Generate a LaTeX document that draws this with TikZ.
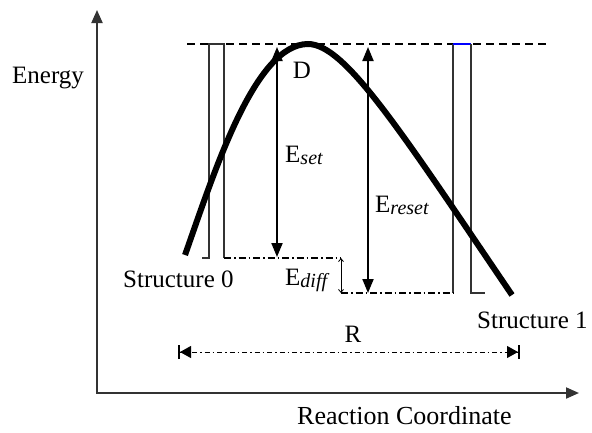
\documentclass[tikz,border=0pt]{standalone}
\usepackage{fontspec}
\setmainfont{Liberation Serif}
\usetikzlibrary{arrows.meta}
\newcommand{\subtxt}[1]{\raisebox{-2pt}{\fontsize{20}{20}\selectfont\itshape #1}}
\begin{document}
\begin{tikzpicture}[x=1pt,y=-1pt,
  lbl/.style={font=\fontsize{25}{25}\selectfont, inner sep=0pt, anchor=base west},
  axis/.style={line width=2pt, draw=black!80},
  thin/.style={line width=1.4pt, draw=black!80},
  dashdot/.style={line width=1.1pt, dash pattern=on 7pt off 3pt on 1.5pt off 3pt},
  bigarrow/.style={line width=2pt, {Triangle[length=14pt,width=11pt]}-{Triangle[length=14pt,width=11pt]}},
  smallarrow/.style={line width=0.8pt, {Straight Barb[length=3pt,width=5pt]}-{Straight Barb[length=3pt,width=5pt]}},
]
\useasboundingbox (0,0) rectangle (592,432);
% axes
\coordinate (ytop) at (97,10);
\coordinate (O) at (97,393);
\coordinate (xend) at (579,393);
\draw[axis, {Triangle[length=13pt,width=11pt]}-{Triangle[length=13pt,width=11pt]}] (ytop) -- (O) -- (xend);
% top dashed line
\coordinate (dL) at (187,44);
\coordinate (dR) at (548,44);
\draw[line width=1.2pt, dash pattern=on 8pt off 5pt] (dL) -- (dR);
% left well
\coordinate (l0) at (202,258);
\coordinate (l1) at (209,258);
\coordinate (l2) at (209,44);
\coordinate (l3) at (224,44);
\coordinate (l4) at (224,258);
\coordinate (m1) at (341,258);
\draw[thin] (l0) -- (l1) -- (l2) -- (l3) -- (l4);
\draw[dashdot] (l4) -- (m1);
% right well
\coordinate (r0) at (453,293);
\coordinate (r1) at (453,44);
\coordinate (r2) at (471,44);
\coordinate (r3) at (471,293);
\coordinate (r4) at (485,293);
\coordinate (m2) at (341,293);
\draw[thin] (r0) -- (r1);
\draw[line width=1.6pt, blue] (r1) -- (r2);
\draw[thin] (r2) -- (r3) -- (r4);
\draw[dashdot] (m2) -- (r0);
% energy curve
\coordinate (c0) at (185,255);
\coordinate (cp) at (308,44);
\coordinate (c1) at (512,295);
\draw[line width=6pt] (c0) .. controls (215,170) and (255,44) .. (cp)
  .. controls (345,44) and (400,130) .. (c1);
% energy arrows
\coordinate (s1t) at (277,47);
\coordinate (s1b) at (277,257);
\draw[bigarrow] (s1t) -- (s1b);
\coordinate (s2t) at (368,47);
\coordinate (s2b) at (368,293);
\draw[bigarrow] (s2t) -- (s2b);
\draw[smallarrow] (m1) -- (m2);
% R dimension
\coordinate (RL) at (178,352);
\coordinate (RR) at (520,352);
\draw[line width=1pt, dash pattern=on 5pt off 3pt on 1.5pt off 3pt,
  {Bar[width=14pt,line width=2pt]Triangle[length=11pt,width=12pt]}-{Triangle[length=11pt,width=12pt]Bar[width=14pt,line width=2pt]}] (RL) -- (RR);
% labels
\node[lbl] (energy) at (12,83) {Energy};
\node[lbl] (st0) at (123,287) {Structure 0};
\node[lbl] (st1) at (477,328) {Structure 1};
\node[lbl, anchor=base] (R) at (353,342) {R};
\node[lbl, anchor=base] (D) at (302,78) {D};
\node[lbl] (Eset) at (285,162) {E\subtxt{set}};
\node[lbl] (Ereset) at (375,212) {E\subtxt{reset}};
\node[lbl] (Ediff) at (285,285) {E\subtxt{diff}};
\node[lbl, font=\fontsize{26}{26}\selectfont] (rc) at (297,424) {Reaction Coordinate};
\end{tikzpicture}
\end{document}
